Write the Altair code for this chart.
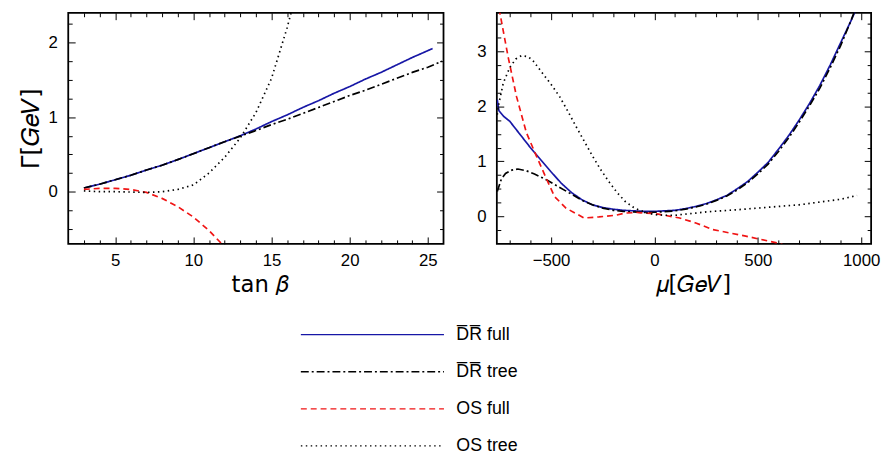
import altair as alt
import pandas as pd

SERIES = ["D̅R̅ full", "D̅R̅ tree", "OS full", "OS tree"]
COLORS = ["#1717a6", "#000000", "#f01414", "#000000"]
DASHES = [[1, 0], [8, 3, 2, 3], [6, 4], [1.5, 3.5]]

# ---- left panel: Gamma vs tan(beta)
tb_dr_full_x = [3, 4, 5, 6, 7, 8, 9, 10, 11, 12, 13, 14, 15, 16, 17, 18, 19, 20, 21, 22, 23, 24, 25.3]
tb_dr_full_y = [0.05, 0.10, 0.16, 0.22, 0.29, 0.355, 0.43, 0.51, 0.59, 0.67, 0.75, 0.84, 0.94, 1.03,
                1.13, 1.22, 1.32, 1.41, 1.51, 1.60, 1.70, 1.80, 1.92]
tb_dr_tree_x = [3, 4, 5, 6, 7, 8, 9, 10, 11, 12, 13, 14, 15, 16, 17, 18, 19, 20, 21, 22, 23, 24, 25, 25.9]
tb_dr_tree_y = [0.05, 0.10, 0.16, 0.22, 0.29, 0.355, 0.43, 0.51, 0.59, 0.67, 0.745, 0.82, 0.90, 0.97,
                1.05, 1.13, 1.21, 1.29, 1.36, 1.44, 1.52, 1.60, 1.67, 1.75]
tb_os_full_x = [3, 4, 5, 6, 7, 8, 9, 10, 11, 12]
tb_os_full_y = [0.03, 0.045, 0.045, 0.03, -0.01, -0.09, -0.20, -0.34, -0.52, -0.74]
tb_os_tree_x = [3, 4, 5, 6, 7, 8, 9, 10, 11, 12, 13, 14, 15, 16, 16.5]
tb_os_tree_y = [0.01, 0.0, 0.0, -0.005, -0.01, 0.0, 0.03, 0.09, 0.25, 0.46, 0.72, 1.06, 1.52, 2.2, 2.6]

# ---- right panel: Gamma vs mu
mu_dr_full_x = [-760, -752, -730, -700, -650, -600, -550, -500, -450, -400, -350, -300, -250, -200,
                -150, -100, -50, 0, 50, 100, 150, 200, 250, 300, 350, 400, 450, 500, 550, 600, 650,
                700, 750, 800, 850, 900, 950, 980]
mu_dr_full_y = [2.12, 1.92, 1.82, 1.73, 1.49, 1.25, 1.03, 0.81, 0.60, 0.43, 0.30, 0.21, 0.16, 0.13,
                0.11, 0.10, 0.09, 0.09, 0.10, 0.11, 0.14, 0.18, 0.23, 0.30, 0.38, 0.50, 0.63, 0.80,
                0.98, 1.22, 1.47, 1.75, 2.05, 2.38, 2.75, 3.15, 3.55, 3.80]
mu_dr_tree_x = [-760, -740, -720, -690, -660, -620, -580, -520, -460, -400, -350, -300, -250, -200,
                -150, -100, -50, 0, 50, 100, 150, 200, 250, 300, 350, 400, 450, 500, 550, 600, 650,
                700, 750, 800, 850, 900, 950, 975]
mu_dr_tree_y = [0.45, 0.68, 0.78, 0.84, 0.86, 0.83, 0.77, 0.66, 0.53, 0.40, 0.29, 0.21, 0.15, 0.11,
                0.09, 0.08, 0.07, 0.075, 0.085, 0.10, 0.13, 0.17, 0.22, 0.29, 0.37, 0.48, 0.61, 0.77,
                0.95, 1.18, 1.43, 1.71, 2.01, 2.33, 2.70, 3.10, 3.55, 3.80]
mu_os_full_x = [-760, -746, -707, -667, -619, -571, -523, -483, -428, -340, -268, -188, -141, -84,
                0, 19, 122, 200, 282, 442, 601, 650]
mu_os_full_y = [3.95, 3.67, 2.89, 2.18, 1.52, 1.10, 0.69, 0.36, 0.15, -0.03, -0.01, 0.02, 0.06, 0.07,
                0.05, 0.04, -0.03, -0.12, -0.24, -0.36, -0.49, -0.55]
mu_os_tree_x = [-760, -755, -731, -699, -670, -643, -610, -587, -539, -500, -459, -420, -380, -340,
                -300, -260, -220, -180, -141, -100, -77, -40, 0, 50, 100, 150, 200, 250, 300, 400,
                500, 600, 700, 800, 900, 980]
mu_os_tree_y = [1.85, 2.0, 2.42, 2.71, 2.86, 2.92, 2.90, 2.83, 2.59, 2.40, 2.18, 1.92, 1.64, 1.37,
                1.10, 0.85, 0.63, 0.43, 0.27, 0.16, 0.12, 0.07, 0.03, 0.02, 0.02, 0.04, 0.06, 0.08,
                0.095, 0.12, 0.15, 0.18, 0.21, 0.26, 0.31, 0.38]

# ---- tick positions (labels are shown on the major ones only)
tb_ticks = [3, 4, 5, 6, 7, 8, 9, 10, 11, 12, 13, 14, 15, 16, 17, 18, 19, 20, 21, 22, 23, 24, 25]
g1_ticks = [-0.5, -0.25, 0, 0.25, 0.5, 0.75, 1, 1.25, 1.5, 1.75, 2, 2.25]
mu_ticks = [-700, -600, -500, -400, -300, -200, -100, 0, 100, 200, 300, 400, 500, 600, 700, 800,
            900, 1000]
g2_ticks = [-0.25, 0, 0.25, 0.5, 0.75, 1, 1.25, 1.5, 1.75, 2, 2.25, 2.5, 2.75, 3, 3.25, 3.5]


def frame(pairs):
    rows = []
    for name, xs, ys in pairs:
        for xv, yv in zip(xs, ys):
            rows.append({"x": xv, "y": yv, "series": name})
    return pd.DataFrame(rows)


left_df = frame([
    (SERIES[0], tb_dr_full_x, tb_dr_full_y),
    (SERIES[1], tb_dr_tree_x, tb_dr_tree_y),
    (SERIES[2], tb_os_full_x, tb_os_full_y),
    (SERIES[3], tb_os_tree_x, tb_os_tree_y),
])
right_df = frame([
    (SERIES[0], mu_dr_full_x, mu_dr_full_y),
    (SERIES[1], mu_dr_tree_x, mu_dr_tree_y),
    (SERIES[2], mu_os_full_x, mu_os_full_y),
    (SERIES[3], mu_os_tree_x, mu_os_tree_y),
])

LEGEND = alt.Legend(
    title=None, orient="none", legendX=299, legendY=317, direction="vertical",
    symbolType="M-10,0H10", symbolSize=210, symbolStrokeWidth=1.3,
    labelFontSize=18, labelFont="Liberation Sans", labelColor="black",
    rowPadding=19.5, labelOffset=76, padding=0,
)


def panel(df, xdom, ydom, xticks, xmajor, yticks, ymajor, xsize, ysize, xpad, ypad,
          xtitle, ytitle, title_dx, w, h):
    xs = alt.Scale(domain=xdom, nice=False, zero=False)
    ys = alt.Scale(domain=ydom, nice=False, zero=False)
    xlabels = f"datum.value % {xmajor} == 0 ? format(datum.value, 'd') : ''"
    ylabels = f"datum.value % {ymajor} == 0 ? format(datum.value, 'd') : ''"
    color = alt.Color("series:N", scale=alt.Scale(domain=SERIES, range=COLORS), legend=LEGEND)
    dash = alt.StrokeDash("series:N", scale=alt.Scale(domain=SERIES, range=DASHES), legend=LEGEND)
    main = alt.Chart(df).mark_line(clip=True, strokeWidth=1.7).encode(
        x=alt.X("x:Q", scale=xs, axis=alt.Axis(
            orient="bottom", values=xticks, labelExpr=xlabels, tickSize={"expr": xsize},
            tickColor="black", domain=False, grid=False, title=xtitle, labelPadding=xpad,
            titlePadding=5, titleX=w / 2 + title_dx, zindex=1)),
        y=alt.Y("y:Q", scale=ys, axis=alt.Axis(
            orient="left", values=yticks, labelExpr=ylabels, tickSize={"expr": ysize},
            tickColor="black", domain=False, grid=False, title=ytitle, labelPadding=ypad,
            titlePadding=5, titleFontSize=25, zindex=1)),
        color=color, strokeDash=dash,
    )
    mirror = alt.Chart(df).mark_line(clip=True, strokeOpacity=0).encode(
        x=alt.X("x:Q", scale=xs, axis=alt.Axis(
            orient="top", values=xticks, labels=False, tickSize={"expr": xsize},
            tickColor="black", domain=False, grid=False, title=None, zindex=1)),
        y=alt.Y("y:Q", scale=ys, axis=alt.Axis(
            orient="right", values=yticks, labels=False, tickSize={"expr": ysize},
            tickColor="black", domain=False, grid=False, title=None, zindex=1)),
        detail="series:N",
    )
    return alt.layer(main, mirror).resolve_axis(x="independent", y="independent").properties(
        width=w, height=h)


left = panel(left_df, [2, 26], [-0.7, 2.4], tb_ticks, 5, g1_ticks, 1,
             "datum.value % 5 == 0 ? -7 : -4", "datum.value % 1 == 0 ? -7 : -4", 16, 18,
             "tan\u00a0𝛽", "Γ[𝐺𝑒𝑉]", 4, 380, 234)
right = panel(right_df, [-762, 1048], [-0.5, 3.7], mu_ticks, 500, g2_ticks, 1,
              "datum.value % 500 == 0 ? -7 : -4", "datum.value % 1 == 0 ? -7 : -4", 16, 18,
              "𝜇[𝐺𝑒𝑉]", None, 9, 379, 234)

chart = alt.hconcat(left, right, spacing=30).properties(
    padding={"left": 9, "top": 0, "right": 0, "bottom": 0}
).configure_view(stroke="black", strokeWidth=1.8).configure_axis(
    labelFont="Liberation Sans", labelFontSize=17, labelColor="black",
    titleFont="DejaVu Sans", titleFontSize=23, titleFontWeight="normal", titleColor="black",
)

chart.save("out.html", embed_options={"renderer": "svg", "actions": False})
